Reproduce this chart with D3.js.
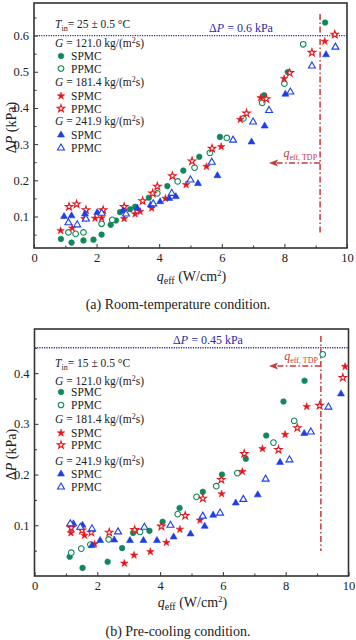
<!DOCTYPE html>
<html><head><meta charset="utf-8">
<script src="https://cdn.jsdelivr.net/npm/d3@7/dist/d3.min.js"></script>
<style>
html,body{margin:0;padding:0;background:#fff;}
svg{display:block;font-family:"Liberation Serif","Times New Roman",serif;}
</style></head>
<body>
<script>
// ---------- data: (a) room-temperature ----------
const xTicks = [0, 2, 4, 6, 8, 10];
const xMinorTicks = [1, 3, 5, 7, 9];
const roomYTicks = [0.1, 0.2, 0.3, 0.4, 0.5, 0.6];
const roomYMinor = [0.05, 0.15, 0.25, 0.35, 0.45, 0.55, 0.65];
const coolYTicks = [0.1, 0.2, 0.3, 0.4];
const coolYMinor = [0.05, 0.15, 0.25, 0.35, 0.45];
const legendG = ["121.0", "181.4", "241.9"];
const legendTypes = ["SPMC", "PPMC"];

const roomG121S = [[0.86,0.038],[1.20,0.028],[1.58,0.034],[1.90,0.036],[2.16,0.050],[2.45,0.077],[2.62,0.089],[2.75,0.112],[3.07,0.120],[3.23,0.127],[3.67,0.152],[4.26,0.184],[4.77,0.227],[5.28,0.265],[5.94,0.320],[7.35,0.435],[8.11,0.499],[9.30,0.636]];
const roomG121P = [[1.10,0.056],[1.33,0.052],[1.58,0.056],[2.16,0.080],[2.50,0.091],[3.94,0.164],[4.59,0.197],[5.13,0.235],[5.62,0.276],[6.16,0.317],[6.69,0.371],[7.29,0.414],[8.00,0.467],[8.60,0.576]];
const roomG181S = [[0.85,0.061],[1.22,0.068],[1.61,0.094],[1.95,0.095],[2.16,0.096],[2.88,0.094],[3.23,0.107],[3.39,0.114],[3.76,0.123],[4.20,0.150],[4.86,0.188],[5.51,0.238],[5.98,0.293],[6.59,0.368],[7.24,0.428],[7.99,0.481],[9.29,0.584]];
const roomG181P = [[1.12,0.127],[1.36,0.134],[1.66,0.118],[2.21,0.118],[2.88,0.127],[3.47,0.143],[3.79,0.164],[3.94,0.183],[4.42,0.212],[5.05,0.253],[5.69,0.288],[6.79,0.385],[7.42,0.425],[8.17,0.497],[8.88,0.553],[9.61,0.603]];
const roomG241S = [[0.96,0.100],[1.20,0.102],[1.63,0.107],[2.02,0.111],[2.85,0.116],[3.30,0.123],[3.73,0.132],[4.03,0.141],[4.32,0.150],[4.53,0.155],[5.24,0.191],[5.86,0.213],[6.95,0.306],[7.37,0.350],[8.03,0.438],[9.33,0.547]];
const roomG241P = [[1.10,0.083],[1.38,0.077],[1.66,0.093],[2.16,0.109],[2.94,0.107],[3.81,0.135],[4.40,0.164],[5.00,0.201],[5.68,0.250],[6.36,0.311],[7.00,0.361],[7.51,0.393],[8.19,0.444],[8.88,0.516],[9.63,0.568]];

// ---------- data: (b) pre-cooling ----------
const coolG121S = [[1.12,0.038],[1.53,0.016],[2.33,0.028],[2.79,0.055],[3.14,0.085],[3.66,0.089],[4.08,0.107],[4.62,0.134],[5.36,0.166],[5.97,0.200],[6.73,0.231],[7.38,0.277],[7.93,0.344],[8.60,0.385]];
const coolG121P = [[1.17,0.046],[1.49,0.054],[1.78,0.062],[2.36,0.072],[3.36,0.087],[4.56,0.122],[5.16,0.156],[5.79,0.177],[6.46,0.203],[7.61,0.263],[8.27,0.306],[9.18,0.437]];
const coolG181S = [[1.16,0.085],[1.59,0.080],[1.91,0.063],[2.86,0.025],[3.17,0.041],[3.69,0.048],[4.20,0.066],[4.63,0.092],[5.27,0.110],[5.96,0.162],[6.62,0.206],[7.26,0.251],[7.98,0.279],[8.67,0.334],[9.89,0.413]];
const coolG181P = [[1.17,0.095],[1.51,0.090],[1.81,0.086],[2.38,0.086],[3.19,0.091],[4.04,0.098],[4.80,0.119],[5.36,0.153],[5.95,0.190],[6.68,0.241],[7.77,0.249],[8.37,0.292],[9.08,0.336],[9.82,0.391]];
const coolG241S = [[1.24,0.103],[1.53,0.100],[1.83,0.060],[2.09,0.070],[2.54,0.071],[3.04,0.070],[3.47,0.070],[3.90,0.070],[4.43,0.077],[4.97,0.083],[5.42,0.098],[5.69,0.120],[6.41,0.144],[7.11,0.160],[7.82,0.224],[8.59,0.281],[9.76,0.359]];
const coolG241P = [[1.14,0.103],[1.46,0.096],[1.83,0.093],[2.66,0.087],[3.50,0.096],[4.33,0.100],[5.36,0.118],[5.91,0.124],[6.65,0.151],[7.36,0.191],[8.12,0.229],[8.80,0.284],[9.36,0.333]];

const C_GREEN = "#11875a", C_RED = "#e8141c", C_BLUE = "#1c3fe6";
const C_NAVY = "#2a2aa8", C_DRED = "#c43c3c";

const svg = d3.select("body").append("svg").attr("width", 356).attr("height", 640);

function sym(g, kind, filled, color, x, y) {
  let type, size;
  if (kind === "circle") { type = d3.symbolCircle; size = 25; }
  else if (kind === "star") { type = d3.symbolStar; size = 17; }
  else { type = d3.symbolTriangle; size = 21; }
  g.append("path").attr("d", d3.symbol().type(type).size(size)())
    .attr("transform", `translate(${x},${y})`)
    .attr("fill", filled ? color : "#fff")
    .attr("stroke", color).attr("stroke-width", filled ? 0.6 : 1.1);
}

function panel(o) {
  const g = svg.append("g");
  const x = d3.scaleLinear().domain([0, 10]).range(o.xr);
  const y = d3.scaleLinear().domain(o.yd).range(o.yr);
  const [x0, x1] = o.xr, [yb, yt] = o.yr;

  // axes
  g.append("g").attr("transform", `translate(0,${yb})`)
    .call(d3.axisBottom(x).tickValues(xTicks).tickSizeInner(-4).tickSizeOuter(0).tickPadding(5).tickFormat(d3.format("d")));
  g.append("g").attr("transform", `translate(0,${yb})`)
    .call(d3.axisBottom(x).tickValues(xMinorTicks).tickSizeInner(-2.5).tickSizeOuter(0).tickFormat(""));
  g.append("g").attr("transform", `translate(${x0},0)`)
    .call(d3.axisLeft(y).tickValues(o.yTicks).tickSizeInner(-4).tickSizeOuter(0).tickPadding(5).tickFormat(d3.format(".1f")));
  g.append("g").attr("transform", `translate(${x0},0)`)
    .call(d3.axisLeft(y).tickValues(o.yMinor.filter(v => v > o.yd[0] && v < o.yd[1])).tickSizeInner(-2.5).tickSizeOuter(0).tickFormat(""));
  g.selectAll(".domain").remove();
  g.selectAll(".tick line").attr("stroke", "#333").attr("stroke-width", 1);
  g.selectAll(".tick text").attr("font-family", "Liberation Serif").attr("font-size", 12.5).attr("fill", "#222");

  g.append("rect").attr("x", x0).attr("y", yt).attr("width", x1 - x0).attr("height", yb - yt)
    .attr("fill", "none").attr("stroke", "#333").attr("stroke-width", 1.6);

  // threshold line
  g.append("line").attr("x1", x0).attr("x2", x1).attr("y1", y(o.thr)).attr("y2", y(o.thr))
    .attr("stroke", C_NAVY).attr("stroke-width", 1.3).attr("stroke-dasharray", "1.2,1.2");
  const tt = g.append("text").attr("x", o.thrTextX).attr("y", y(o.thr) - 4).attr("fill", C_NAVY)
    .attr("font-size", 12).attr("text-anchor", "middle");
  tt.append("tspan").text("Δ");
  tt.append("tspan").attr("font-style", "italic").text("P");
  tt.append("tspan").text(" = " + o.thr + " kPa");

  // TDP vertical line + arrow
  const vx = x(o.tdp);
  g.append("line").attr("x1", vx).attr("x2", vx).attr("y1", o.vTop).attr("y2", o.vBot)
    .attr("stroke", C_DRED).attr("stroke-width", 1.5).attr("stroke-dasharray", "6,2.5,1.5,2.5");
  g.append("line").attr("x1", vx).attr("x2", o.arrowTip + 6).attr("y1", o.arrowY).attr("y2", o.arrowY)
    .attr("stroke", C_DRED).attr("stroke-width", 1.5).attr("stroke-dasharray", "6,2.5,1.5,2.5");
  g.append("path").attr("d", `M${o.arrowTip},${o.arrowY}L${o.arrowTip + 9},${o.arrowY - 3.5}L${o.arrowTip + 7},${o.arrowY}L${o.arrowTip + 9},${o.arrowY + 3.5}Z`)
    .attr("fill", C_DRED);
  const ql = g.append("text").attr("x", vx - 3).attr("y", o.arrowY - 6).attr("fill", C_DRED)
    .attr("text-anchor", "end").attr("font-size", 12);
  ql.append("tspan").attr("font-style", "italic").text("q");
  ql.append("tspan").attr("font-size", 8).attr("dy", 3).text("eff, TDP");

  // data
  const series = [
    [o.d[0], "circle", true, C_GREEN], [o.d[1], "circle", false, C_GREEN],
    [o.d[2], "star", true, C_RED], [o.d[3], "star", false, C_RED],
    [o.d[4], "triangle", true, C_BLUE], [o.d[5], "triangle", false, C_BLUE]
  ];
  const dg = g.append("g");
  series.forEach(s => s[0].forEach(p => sym(dg, s[1], s[2], s[3], x(p[0]), y(p[1]))));

  // legend
  const lg = g.append("g").attr("font-size", 11.5).attr("fill", "#222");
  const t0 = lg.append("text").attr("x", 55).attr("y", o.legY[0] + 4);
  t0.append("tspan").attr("font-style", "italic").text("T");
  t0.append("tspan").attr("font-size", 8).attr("dy", 3).text("in");
  t0.append("tspan").attr("dy", -3).text("= " + o.tin + " ± 0.5 °C");
  const kinds = ["circle", "star", "triangle"], cols = [C_GREEN, C_RED, C_BLUE];
  legendG.forEach((gv, i) => {
    const base = 1 + i * 3;
    const t = lg.append("text").attr("x", 55).attr("y", o.legY[base] + 4);
    t.append("tspan").attr("font-style", "italic").text("G");
    t.append("tspan").text(" = " + gv + " kg/(m");
    t.append("tspan").attr("font-size", 8).attr("dy", -4).text("2");
    t.append("tspan").attr("dy", 4).text("s)");
    legendTypes.forEach((lt, j) => {
      const yy = o.legY[base + 1 + j];
      sym(lg, kinds[i], j === 0, cols[i], 61, yy);
      lg.append("text").attr("x", 71).attr("y", yy + 4).text(lt);
    });
  });

  // axis titles
  const yl = g.append("text").attr("transform", `translate(${o.yTitleX},${(yb + yt) / 2 + 2}) rotate(-90)`)
    .attr("text-anchor", "middle").attr("font-size", 14).attr("fill", "#222");
  yl.append("tspan").text("Δ");
  yl.append("tspan").attr("font-style", "italic").text("P");
  yl.append("tspan").text(" (kPa)");
  const xl = g.append("text").attr("x", (x0 + x1) / 2 + 1).attr("y", o.xTitleY).attr("text-anchor", "middle")
    .attr("font-size", 14).attr("fill", "#222");
  xl.append("tspan").attr("font-style", "italic").text("q");
  xl.append("tspan").attr("font-size", 10).attr("dy", 3).text("eff");
  xl.append("tspan").attr("dy", -3).text(" (W/cm");
  xl.append("tspan").attr("font-size", 9).attr("dy", -5).text("2");
  xl.append("tspan").attr("dy", 5).text(")");
  g.append("text").attr("x", 178).attr("y", o.capY).attr("text-anchor", "middle")
    .attr("font-size", 14).attr("fill", "#222").text(o.caption);
}

panel({
  xr: [34, 347], yr: [248, 3], yd: [0.013, 0.69], yTicks: roomYTicks, yMinor: roomYMinor,
  d: [roomG121S, roomG121P, roomG181S, roomG181P, roomG241S, roomG241P],
  thr: 0.6, thrTextX: 241, tdp: 9.14, vTop: 14, vBot: 234, arrowY: 163, arrowTip: 269,
  legY: [24, 43, 56, 68.5, 82, 96, 108.5, 121, 135, 148],
  tin: "25", yTitleX: 16, xTitleY: 281, capY: 309, caption: "(a) Room-temperature condition."
});
panel({
  xr: [34.5, 348.5], yr: [576, 329], yd: [0, 0.487], yTicks: coolYTicks, yMinor: coolYMinor,
  d: [coolG121S, coolG121P, coolG181S, coolG181P, coolG241S, coolG241P],
  thr: 0.45, thrTextX: 208, tdp: 9.12, vTop: 336, vBot: 551, arrowY: 366, arrowTip: 269,
  legY: [362.5, 381, 392, 405, 419, 433, 445, 460.5, 474, 487],
  tin: "15", yTitleX: 16, xTitleY: 607, capY: 636, caption: "(b) Pre-cooling condition."
});
</script>
</body></html>
